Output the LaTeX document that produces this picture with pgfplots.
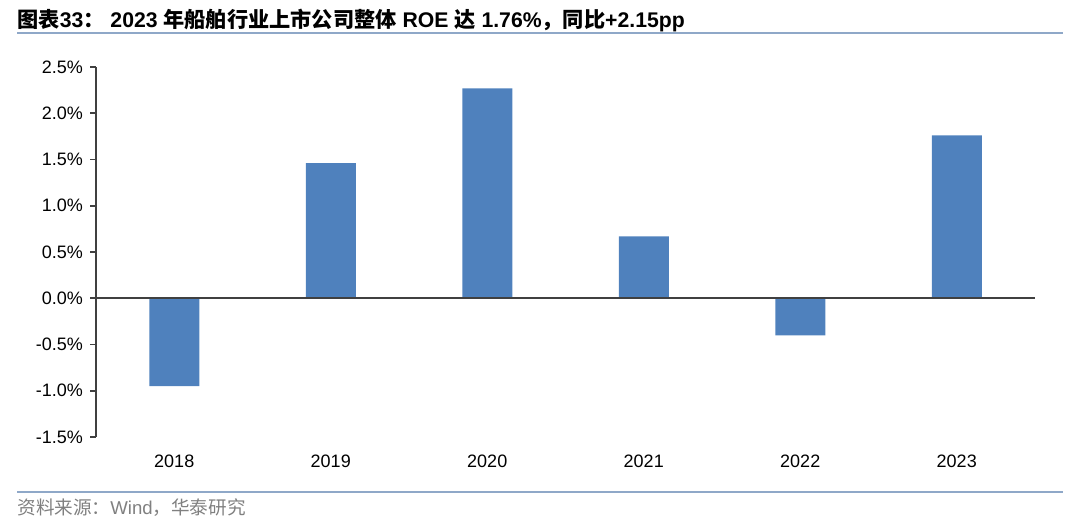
\documentclass[border=0pt]{standalone}
\usepackage{fontspec}
\usepackage{pgfplots}
\pgfplotsset{compat=1.18}
\setmainfont{Liberation Sans}
\newfontfamily\cjk{Noto Sans CJK SC}
\definecolor{barblue}{HTML}{4F81BD}
\definecolor{ruleblue}{HTML}{8FA8C8}
\definecolor{axgray}{HTML}{404040}
\begin{document}
\begin{tikzpicture}
\path[use as bounding box] (0,0) rectangle (540pt,263.5pt);
\node[anchor=west,inner sep=0pt,font=\fontsize{10.6pt}{12pt}\selectfont\bfseries] at (8.5pt,253.5pt)
 {{\cjk 图表}33{\cjk ：} 2023 {\cjk 年船舶行业上市公司整体} ROE {\cjk 达} 1.76\%{\cjk ，同比}+2.15pp};
\draw[ruleblue,line width=0.8pt] (8.5pt,247pt) -- (531.5pt,247pt);
\draw[ruleblue,line width=0.8pt] (8.5pt,17.5pt) -- (531.5pt,17.5pt);
\node[anchor=west,inner sep=0pt,text=gray,font=\fontsize{9.3pt}{11pt}\selectfont] at (8.5pt,9.5pt)
 {{\cjk 资料来源：}Wind{\cjk ，华泰研究}};
\begin{axis}[
  at={(48pt,45pt)}, anchor=south west,
  width=469.5pt, height=185pt, scale only axis,
  ybar, bar width=25pt,
  xmin=-0.5, xmax=5.5, ymin=-1.5, ymax=2.5,
  axis lines=left,
  x axis line style={draw=none},
  y axis line style={axgray,line width=0.8pt,-},
  xtick={0,1,2,3,4,5},
  xticklabels={2018,2019,2020,2021,2022,2023},
  major x tick style={draw=none},
  xticklabel style={yshift=-2.5pt},
  ytick={-1.5,-1,-0.5,0,0.5,1,1.5,2,2.5},
  yticklabels={-1.5\%,-1.0\%,-0.5\%,0.0\%,0.5\%,1.0\%,1.5\%,2.0\%,2.5\%},
  tick align=outside, major tick length=3pt,
  major y tick style={axgray,line width=0.8pt},
  ticklabel style={font=\fontsize{9pt}{10.5pt}\selectfont},
  clip=false,
]
\addplot[fill=barblue,draw=none] coordinates {(0,-0.95) (1,1.46) (2,2.27) (3,0.67) (4,-0.40) (5,1.76)};
\draw[axgray,line width=0.8pt] (axis cs:-0.5,0) -- (axis cs:5.5,0);
\end{axis}
\end{tikzpicture}
\end{document}
